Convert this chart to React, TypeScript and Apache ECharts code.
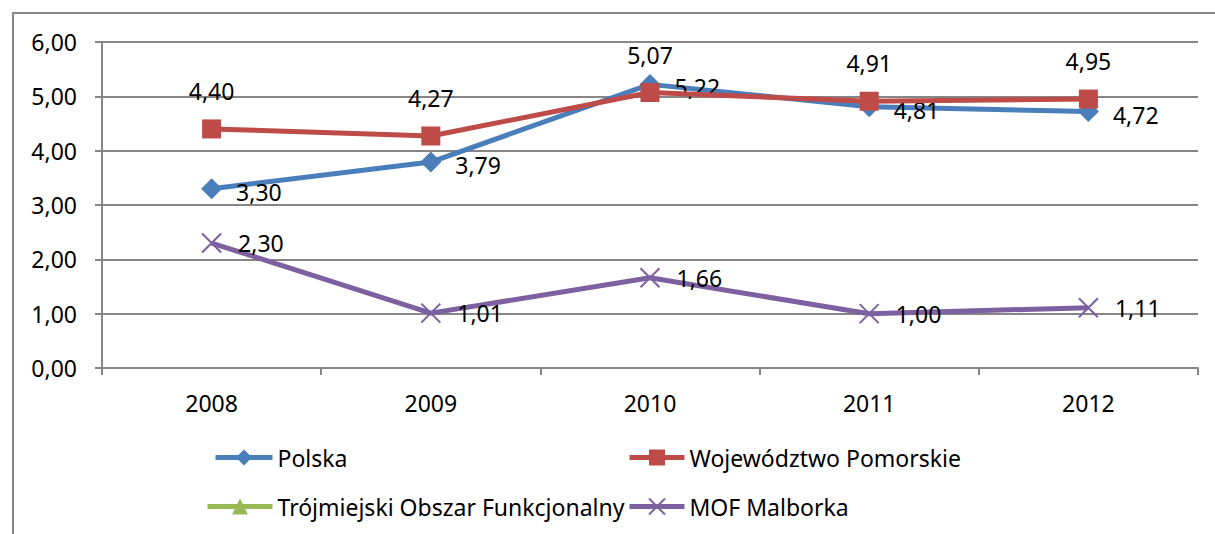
import React, { useEffect, useRef } from "react";
import * as echarts from "echarts";

const categories = ["2008", "2009", "2010", "2011", "2012"];
const polska = [3.3, 3.79, 5.22, 4.81, 4.72];
const pomorskie = [4.4, 4.27, 5.07, 4.91, 4.95];
const trojmiejski: (number | null)[] = [null, null, null, null, null];
const malborka = [2.3, 1.01, 1.66, 1.0, 1.11];
const seriesNames = [
  "Polska",
  "Województwo Pomorskie",
  "Trójmiejski Obszar Funkcjonalny",
  "MOF Malborka",
];

const FONT = "Noto Sans";
const FS = 23;
const GRID = "#868686";
const fmt = (v: number) => v.toFixed(2).replace(".", ",");
const crossPath = "path://M0,0L10,10M10,0L0,10";

export default function App() {
  const ref = useRef<HTMLDivElement>(null);
  useEffect(() => {
    if (!ref.current) return;
    const chart = echarts.init(ref.current, null, { renderer: "svg" });
    const labelBase = {
      show: true,
      color: "#000",
      fontFamily: FONT,
      fontSize: FS,
      formatter: (p: any) => fmt(p.value),
    };
    const legendText = { color: "#000", fontFamily: FONT, fontSize: FS };
    const legendCommon = {
      padding: 0,
      itemHeight: 20,
      textStyle: legendText,
      lineStyle: { width: 5 },
    };
    chart.setOption({
      animation: false,
      graphic: [
        {
          type: "rect",
          shape: { x: 13, y: 13, width: 1300, height: 700 },
          style: { fill: "none", stroke: GRID, lineWidth: 2 },
          silent: true,
          z: -1,
        },
      ],
      grid: { left: 102, top: 42, right: 17, bottom: 166 },
      xAxis: {
        type: "category",
        data: categories,
        boundaryGap: true,
        axisLine: { show: true, lineStyle: { color: GRID, width: 2 } },
        axisTick: { show: true, length: 7, lineStyle: { color: GRID, width: 2 } },
        axisLabel: { color: "#000", fontFamily: FONT, fontSize: FS, margin: 23 },
      },
      yAxis: {
        type: "value",
        min: 0,
        max: 6,
        interval: 1,
        axisLine: { show: true, lineStyle: { color: GRID, width: 2 } },
        axisTick: { show: true, length: 7, lineStyle: { color: GRID, width: 2 } },
        splitLine: { show: true, lineStyle: { color: GRID, width: 2 } },
        axisLabel: {
          color: "#000",
          fontFamily: FONT,
          fontSize: FS,
          margin: 25,
          formatter: (v: number) => fmt(v),
        },
      },
      legend: [
        { ...legendCommon, left: 213, top: 446, itemWidth: 57, data: [seriesNames[0]] },
        { ...legendCommon, left: 627, top: 446, itemWidth: 55, data: [seriesNames[1]] },
        { ...legendCommon, left: 205, top: 495, itemWidth: 65, data: [seriesNames[2]] },
        { ...legendCommon, left: 627, top: 495, itemWidth: 55, data: [seriesNames[3]] },
      ],
      series: [
        {
          name: seriesNames[0],
          type: "line",
          data: polska,
          symbol: "diamond",
          symbolSize: 21,
          lineStyle: { color: "#4a7ebb", width: 5 },
          itemStyle: { color: "#4a7ebb" },
          label: { ...labelBase, position: "right", distance: 14, offset: [0, 3] },
          z: 3,
        },
        {
          name: seriesNames[1],
          type: "line",
          data: pomorskie,
          symbol: "rect",
          symbolSize: 19,
          lineStyle: { color: "#be4b48", width: 5 },
          itemStyle: { color: "#be4b48" },
          label: { ...labelBase, position: "top", distance: 17 },
          z: 4,
        },
        {
          name: seriesNames[2],
          type: "line",
          data: trojmiejski,
          symbol: "triangle",
          symbolSize: 18,
          lineStyle: { color: "#98b954", width: 5 },
          itemStyle: { color: "#98b954" },
        },
        {
          name: seriesNames[3],
          type: "line",
          data: malborka,
          symbol: crossPath,
          symbolSize: 19,
          lineStyle: { color: "#7d60a0", width: 5 },
          itemStyle: { color: "#7d60a0", borderColor: "#7d60a0", borderWidth: 2 },
          label: { ...labelBase, position: "right", distance: 16 },
          z: 5,
        },
      ],
    });
    return () => chart.dispose();
  }, []);
  return (
    <div
      ref={ref}
      style={{ position: "fixed", left: 0, top: 0, width: 1215, height: 534, background: "#fff" }}
    />
  );
}
